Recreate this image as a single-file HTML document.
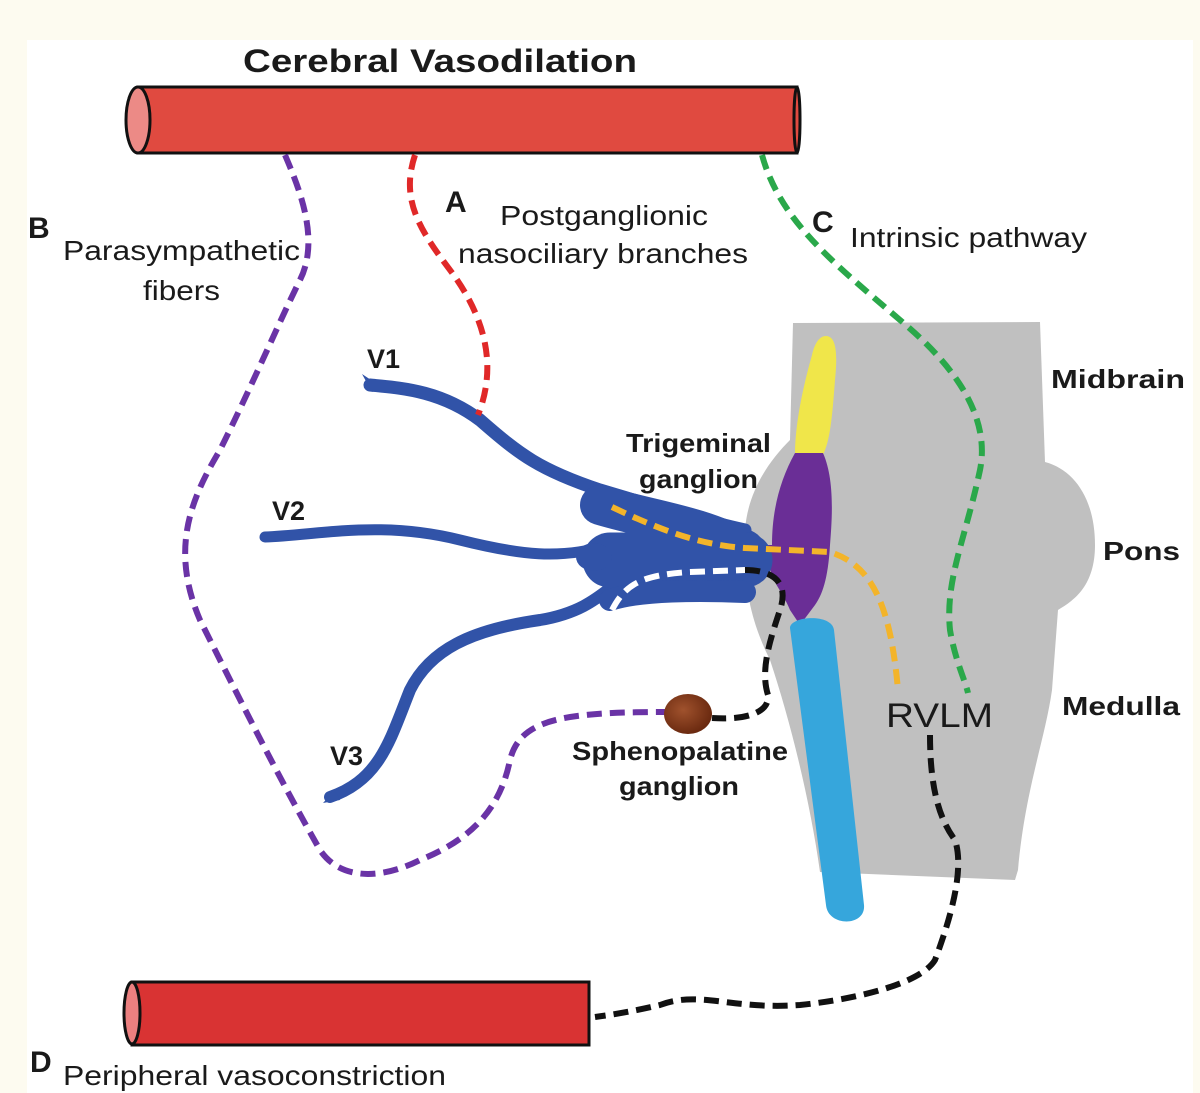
<!DOCTYPE html>
<html><head><meta charset="utf-8"><style>
html,body{margin:0;padding:0;background:#fdfbf0;}
svg{display:block;}
text{font-family:"Liberation Sans",Arial,sans-serif;fill:#1a1a1a;}
.b{font-weight:bold;}
</style></head><body>
<svg width="1200" height="1093" viewBox="0 0 1200 1093" xmlns="http://www.w3.org/2000/svg">
<rect x="0" y="0" width="1200" height="1093" fill="#fdfbf0"/>
<rect x="27" y="40" width="1166" height="1053" fill="#ffffff"/>

<rect x="138" y="87" width="659" height="66" fill="#e04a40" stroke="#111" stroke-width="3"/>
<ellipse cx="797" cy="120" rx="3" ry="33" fill="#e04a40" stroke="#111" stroke-width="3"/>
<ellipse cx="138" cy="120" rx="12" ry="33" fill="#ec8a86" stroke="#111" stroke-width="3"/>
<rect x="132" y="982" width="457" height="63" fill="#d93333" stroke="#111" stroke-width="3"/>
<ellipse cx="132" cy="1013" rx="8" ry="31" fill="#ec8080" stroke="#111" stroke-width="3"/>

<path d="M793,323 L1040,322 L1045,462 C1075,470 1095,500 1095,545 C1095,585 1075,600 1058,610 L1052,690 C1045,740 1025,790 1018,870 L1015,880 L820,872 C810,800 790,720 770,660 C750,620 742,580 745,530 C748,490 770,460 790,440 Z" fill="#c0c0c0"/>

<path d="M826,336 C838,336 837,360 835,380 C832,420 830,440 823,455 L795,455 C795,420 805,380 812,355 C815,342 820,336 826,336 Z" fill="#f0e64a"/>
<path d="M795,453 L823,453 C835,480 832,520 830,545 C828,580 822,595 815,605 L800,625 L790,610 C782,590 770,580 770,565 L745,565 L745,545 L772,545 C772,510 780,480 795,453 Z" fill="#6a2e96"/>
<path d="M790,628 C790,616 832,613 834,630 L864,905 C866,927 828,927 826,905 Z" fill="#36a6dc"/>

<g fill="none" stroke="#3153a8" stroke-linecap="round" stroke-linejoin="round">
<path d="M370,385 C400,388 440,390 480,420 C520,455 540,470 600,490 C650,505 700,520 745,530" stroke-width="13"/>
<path d="M265,537 C320,535 380,520 460,540 C520,555 560,560 610,545 L745,545" stroke-width="11"/>
<path d="M330,797 C380,780 390,740 410,690 C430,650 470,630 540,620 C600,610 610,580 640,570 L745,575" stroke-width="12"/>
<path d="M600,505 C650,520 700,525 745,550" stroke-width="40"/>
<path d="M610,560 L745,560" stroke-width="55"/>
<path d="M610,600 C640,590 700,590 745,592" stroke-width="22"/>
</g>
<ellipse cx="594" cy="557" rx="18" ry="14" fill="#3153a8"/>
<path d="M362,374 L372,392 L380,386 Z" fill="#3153a8"/>
<path d="M323,803 L335,790 L340,800 Z" fill="#3153a8"/>

<g fill="none" stroke-width="6" stroke-dasharray="15,8">
<path d="M285,155 C300,190 320,240 300,280 C280,320 250,390 220,450 C190,500 170,550 200,620 C240,700 280,780 320,850 C340,880 380,880 420,860 C470,840 500,810 510,760 C520,720 560,712 665,712" stroke="#6a33a6"/>
<path d="M415,155 C400,200 420,230 450,270 C480,310 500,360 478,415" stroke="#e02828"/>
<path d="M762,155 C780,220 830,260 900,320 C960,370 990,420 980,470 C965,540 945,580 950,630 C955,660 965,680 968,693" stroke="#2aa84a"/>
<path d="M612,507 C660,530 700,545 745,548 L830,552 C870,565 890,600 898,690" stroke="#f3b42a"/>
<path d="M612,610 C625,585 640,575 690,572 L745,570" stroke="#ffffff"/>
<path d="M745,570 C770,570 790,580 780,610 C770,640 760,670 768,695 C770,715 740,720 712,718" stroke="#111"/>
<path d="M930,735 C930,790 940,820 955,840 C965,870 950,920 935,960 C920,985 850,1000 800,1005 C730,1010 700,990 660,1005 C630,1012 610,1015 595,1017" stroke="#111"/>
</g>

<defs><radialGradient id="g" cx="0.4" cy="0.4" r="0.6"><stop offset="0" stop-color="#a0522d"/><stop offset="1" stop-color="#6b2a10"/></radialGradient></defs>
<ellipse cx="688" cy="714" rx="24" ry="20" fill="url(#g)"/>

<text x="243" y="72" class="b" font-size="32" textLength="394" lengthAdjust="spacingAndGlyphs">Cerebral Vasodilation</text>
<text x="445" y="212" class="b" font-size="30">A</text>
<text x="500" y="225" font-size="28" textLength="208" lengthAdjust="spacingAndGlyphs">Postganglionic</text>
<text x="458" y="263" font-size="28" textLength="290" lengthAdjust="spacingAndGlyphs">nasociliary branches</text>
<text x="28" y="238" class="b" font-size="30">B</text>
<text x="63" y="260" font-size="28" textLength="237" lengthAdjust="spacingAndGlyphs">Parasympathetic</text>
<text x="143" y="300" font-size="28" textLength="77" lengthAdjust="spacingAndGlyphs">fibers</text>
<text x="812" y="232" class="b" font-size="30">C</text>
<text x="850" y="247" font-size="28" textLength="237" lengthAdjust="spacingAndGlyphs">Intrinsic pathway</text>
<text x="367" y="368" class="b" font-size="27">V1</text>
<text x="272" y="520" class="b" font-size="27">V2</text>
<text x="330" y="765" class="b" font-size="27">V3</text>
<text x="626" y="452" class="b" font-size="26" textLength="145" lengthAdjust="spacingAndGlyphs">Trigeminal</text>
<text x="639" y="488" class="b" font-size="26" textLength="119" lengthAdjust="spacingAndGlyphs">ganglion</text>
<text x="1051" y="388" class="b" font-size="26" textLength="134" lengthAdjust="spacingAndGlyphs">Midbrain</text>
<text x="1103" y="560" class="b" font-size="26" textLength="77" lengthAdjust="spacingAndGlyphs">Pons</text>
<text x="1062" y="715" class="b" font-size="26" textLength="118" lengthAdjust="spacingAndGlyphs">Medulla</text>
<text x="886" y="727" font-size="34" textLength="107" lengthAdjust="spacingAndGlyphs">RVLM</text>
<text x="572" y="760" class="b" font-size="26" textLength="216" lengthAdjust="spacingAndGlyphs">Sphenopalatine</text>
<text x="619" y="795" class="b" font-size="26" textLength="120" lengthAdjust="spacingAndGlyphs">ganglion</text>
<text x="30" y="1072" class="b" font-size="30">D</text>
<text x="63" y="1085" font-size="28" textLength="383" lengthAdjust="spacingAndGlyphs">Peripheral vasoconstriction</text>
</svg>
</body></html>
